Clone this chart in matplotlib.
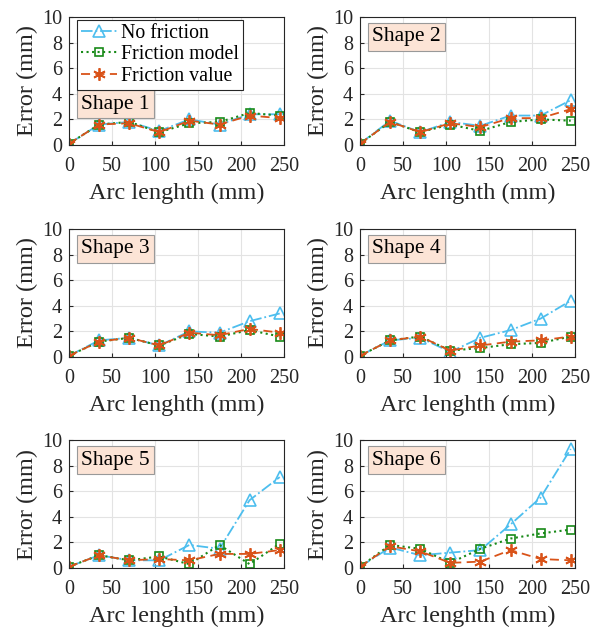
import numpy as np
import matplotlib
matplotlib.use('Agg')
import matplotlib.pyplot as plt

plt.rcParams['font.family'] = ['Liberation Serif', 'DejaVu Serif']

# ============================================================
# DATA
# ============================================================
arc = [0, 35, 70, 105, 140, 175, 210, 245]
shapes = ['Shape 1', 'Shape 2', 'Shape 3', 'Shape 4', 'Shape 5', 'Shape 6']

no_friction = [
    [0.1, 1.6, 1.8, 1.1, 2.0, 1.6, 2.4, 2.4],
    [0.1, 1.9, 1.0, 1.8, 1.5, 2.3, 2.3, 3.5],
    [0.1, 1.3, 1.5, 0.9, 2.0, 1.9, 2.8, 3.4],
    [0.1, 1.3, 1.5, 0.4, 1.5, 2.1, 3.0, 4.4],
    [0.1, 1.0, 0.6, 0.6, 1.8, 1.5, 5.3, 7.1],
    [0.1, 1.6, 1.0, 1.2, 1.4, 3.4, 5.5, 9.3],
]
friction_model = [
    [0.1, 1.6, 1.8, 1.0, 1.7, 1.8, 2.5, 2.3],
    [0.1, 1.8, 1.0, 1.6, 1.1, 1.8, 2.0, 1.9],
    [0.1, 1.2, 1.5, 0.9, 1.8, 1.6, 2.1, 1.6],
    [0.1, 1.3, 1.6, 0.5, 0.7, 1.0, 1.1, 1.6],
    [0.1, 1.0, 0.6, 0.9, 0.3, 1.8, 0.3, 1.9],
    [0.1, 1.8, 1.5, 0.4, 1.5, 2.3, 2.7, 3.0],
]
friction_value = [
    [0.1, 1.6, 1.7, 1.0, 1.9, 1.6, 2.3, 2.1],
    [0.1, 1.8, 1.0, 1.7, 1.4, 2.1, 2.1, 2.8],
    [0.1, 1.2, 1.5, 0.9, 1.9, 1.7, 2.2, 1.9],
    [0.1, 1.3, 1.6, 0.5, 0.9, 1.2, 1.3, 1.6],
    [0.1, 1.0, 0.6, 0.7, 0.6, 1.1, 1.1, 1.4],
    [0.1, 1.7, 1.3, 0.4, 0.5, 1.4, 0.7, 0.6],
]

C_NF = '#4DBEEE'
C_FM = '#188A18'
C_FV = '#D95319'

# ============================================================
# PLOT
# ============================================================
fig = plt.figure(figsize=(6.0, 6.27), dpi=100)

lefts = [69, 360]
tops = [17, 229, 440]
W, H = 600, 627
w, h = 215, 128

for i in range(6):
    r, c = divmod(i, 2)
    ax = fig.add_axes([lefts[c] / W, 1 - (tops[r] + h) / H, w / W, h / H])
    ax.plot(arc, no_friction[i], linestyle='-.', color=C_NF, lw=1.3,
            marker='^', ms=8.5, mfc='none', mec=C_NF, mew=1.2, label='No friction')
    ax.plot(arc, friction_model[i], linestyle=':', color=C_FM, lw=1.5,
            marker='s', ms=6, mfc='none', mec=C_FM, mew=1.2, label='Friction model')
    ax.plot(arc, friction_value[i], linestyle=(0, (5, 3)), color=C_FV, lw=1.3,
            marker=(6, 2, 0), ms=9, mec=C_FV, mew=1.3, label='Friction value')

    ax.set_xlim(0, 250)
    ax.set_ylim(0, 10)
    ax.set_xticks([0, 50, 100, 150, 200, 250])
    ax.set_yticks([0, 2, 4, 6, 8, 10])
    ax.grid(True, color='#e3e3e3', lw=0.8)
    ax.set_axisbelow(True)
    ax.tick_params(direction='in', labelsize=14.5, length=3, color='#262626',
                   labelcolor='#262626', pad=5)
    ax.tick_params(axis='x', pad=8.5)
    for s in ax.spines.values():
        s.set_color('#262626')
        s.set_linewidth(0.8)
    ax.set_xlabel('Arc lenghth (mm)', fontsize=17.5, color='#262626', labelpad=5)
    ax.set_ylabel('Error (mm)', fontsize=17.5, color='#262626', labelpad=3)

    box = dict(boxstyle='square,pad=0.2', facecolor='#FCE4D6',
               edgecolor='#999999', lw=0.8)
    if i == 0:
        leg = ax.legend(loc='upper left', bbox_to_anchor=(8 / w, 1 - 3 / h),
                        borderaxespad=0, fontsize=14.3, frameon=True,
                        fancybox=False, edgecolor='#262626', framealpha=1,
                        borderpad=0.2, labelspacing=0.12, handlelength=1.8,
                        handletextpad=0.2)
        leg.get_frame().set_linewidth(0.8)
        ax.text(12 / w, 1 - 87 / h, shapes[i], transform=ax.transAxes,
                fontsize=15.5, va='center', ha='left', bbox=box)
    else:
        ax.text(12 / w, 1 - 20 / h, shapes[i], transform=ax.transAxes,
                fontsize=15.5, va='center', ha='left', bbox=box)

fig.savefig('out.png', dpi=100)
